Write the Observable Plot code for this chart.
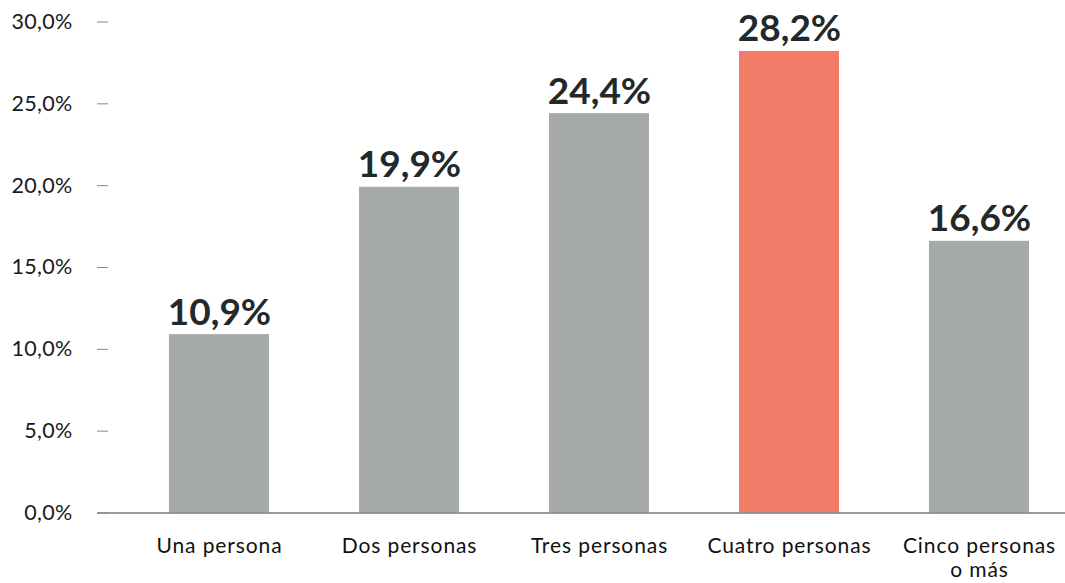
<!DOCTYPE html>
<html>
<head>
<meta charset="utf-8">
<script src="https://cdn.jsdelivr.net/npm/d3@7"></script>
<script src="https://cdn.jsdelivr.net/npm/@observablehq/plot@0.6"></script>
<style>
  html, body { margin: 0; padding: 0; background: #fff; }
  #chart svg { display: block; }
  g[aria-label="x-axis tick label"] text { letter-spacing: 0.9px; }
  g[aria-label="y-axis tick label"] text { letter-spacing: 0.3px; }
</style>
</head>
<body>
<div id="chart"></div>
<script>
const categories = ["Una persona", "Dos personas", "Tres personas", "Cuatro personas", "Cinco personas\no más"];
const values = [10.9, 19.9, 24.4, 28.2, 16.6];
const highlight = "Cuatro personas";
const yTicks = [0, 5, 10, 15, 20, 25, 30];

const data = categories.map((c, i) => ({category: c, value: values[i]}));
const fmt = v => v.toFixed(1).replace(".", ",") + "%";
const font = "Lato, 'Open Sans', sans-serif";

const chart = Plot.plot({
  width: 1065,
  height: 583,
  marginLeft: 97,
  marginRight: 0,
  marginTop: 21.5,
  marginBottom: 70.5,
  style: {fontFamily: font, background: "#fff", color: "#222"},
  x: {domain: categories, range: [122.75, 1075.25], paddingInner: 0.475, paddingOuter: 0.2375, label: null},
  y: {domain: [0, 30], label: null},
  marks: [
    Plot.barY(data, {x: "category", y: "value", fill: d => d.category === highlight ? "#f37c68" : "#a6a9a9"}),
    Plot.ruleY([0], {stroke: "#7a7a7a", strokeWidth: 1.5}),
    Plot.axisY({ticks: yTicks, tickSize: 11, dx: 11, tickPadding: 25, tickFormat: fmt, fontSize: 21.5, stroke: "#8a8a8a", fill: "#1a1a1a", label: null}),
    Plot.axisX({tickSize: 0, tickPadding: 24, fontSize: 21, lineHeight: 1.1, fill: "#111", label: null}),
    Plot.text(data, {x: "category", y: "value", text: d => fmt(d.value), dy: -10, lineAnchor: "bottom", fontSize: 37, fontWeight: "bold", fill: "#23282b"})
  ]
});
document.getElementById("chart").appendChild(chart);
</script>
</body>
</html>
